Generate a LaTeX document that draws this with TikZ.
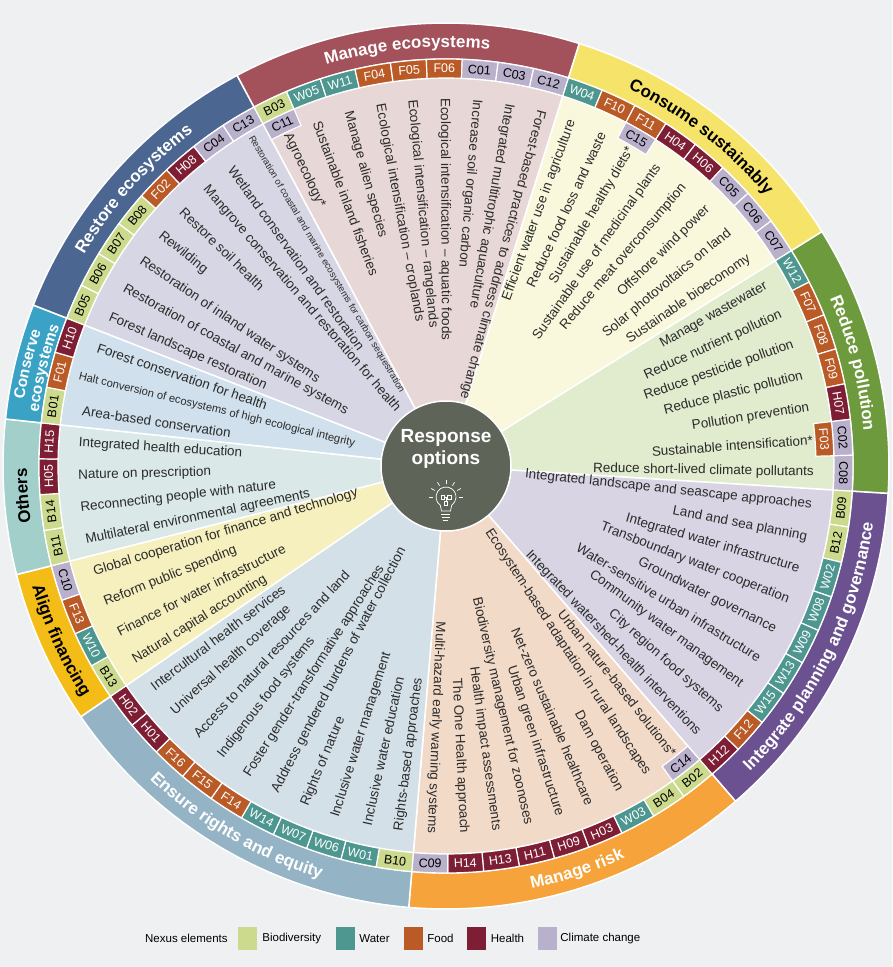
\documentclass[tikz,border=0pt]{standalone}
\usepackage{fontspec}
\setmainfont{Liberation Sans}
\usepackage{tikz}
\usetikzlibrary{decorations.text, positioning}

% colours
\definecolor{bgc}{HTML}{EFF0F2}
\definecolor{hubc}{HTML}{5F6459}
\definecolor{itemc}{HTML}{2B2B2B}
\definecolor{boxB}{HTML}{CBDA8C}
\definecolor{boxW}{HTML}{4E9690}
\definecolor{boxF}{HTML}{BA5B27}
\definecolor{boxH}{HTML}{7D1E35}
\definecolor{boxC}{HTML}{B9B0CC}
\colorlet{txtB}{black}
\colorlet{txtW}{white}
\colorlet{txtF}{white}
\colorlet{txtH}{white}
\colorlet{txtC}{black}
\definecolor{meFill}{HTML}{E7D7D6} \definecolor{meBand}{HTML}{A3525C}
\definecolor{csFill}{HTML}{F9F7DC} \definecolor{csBand}{HTML}{F6E46A}
\definecolor{rpFill}{HTML}{E1EBCD} \definecolor{rpBand}{HTML}{6C9A3C}
\definecolor{ipFill}{HTML}{D8D4E4} \definecolor{ipBand}{HTML}{6B5190}
\definecolor{mrFill}{HTML}{F2DAC8} \definecolor{mrBand}{HTML}{F5A33A}
\definecolor{erFill}{HTML}{D4E0E8} \definecolor{erBand}{HTML}{94B4C6}
\definecolor{afFill}{HTML}{F6F0BE} \definecolor{afBand}{HTML}{F3BC17}
\definecolor{otFill}{HTML}{DAE8E8} \definecolor{otBand}{HTML}{A2CFC9}
\definecolor{ceFill}{HTML}{D0E0EC} \definecolor{ceBand}{HTML}{3AA2C4}
\definecolor{reFill}{HTML}{D6D6E4} \definecolor{reBand}{HTML}{4B6791}

\newcommand{\sw}{5.0704225} % angle of one code slot
\newcommand{\ttlfont}{\bfseries\fontsize{17}{17}\selectfont}

% wedge, band and code ring of one sector: first slot, slots, fill, band, code turn, codes
\newcommand{\drawsector}[6]{%
  \pgfmathsetmacro\aone{72.5-(#1)*\sw}%
  \pgfmathsetmacro\atwo{72.5-(#1+#2)*\sw}%
  \fill[#3, draw=white, line width=1.5pt] (0,0) -- (\aone:388) arc[start angle=\aone, end angle=\atwo, radius=388] -- cycle;
  \fill[#4, draw=white, line width=1.5pt] (\aone:407) arc[start angle=\aone, end angle=\atwo, radius=407] -- (\atwo:443) arc[start angle=\atwo, end angle=\aone, radius=443] -- cycle;
  \foreach \kind/\num [count=\k from 0] in {#6}{%
    \pgfmathsetmacro\ang{72.5-(#1+\k+0.5)*\sw}%
    \pgfmathsetmacro\ahi{\ang+0.5*\sw}%
    \pgfmathsetmacro\alo{\ang-0.5*\sw}%
    \fill[box\kind, draw=white, line width=1.2pt] (\ahi:388) arc[start angle=\ahi, end angle=\alo, radius=388] -- (\alo:407) arc[start angle=\alo, end angle=\ahi, radius=407] -- cycle;
    \node[code, text=txt\kind, rotate=\ang#5] (c\kind\num) at (\ang:397.5) {\kind\num};
  }%
}

% a code in the second row: slot, kind, number, turn
\newcommand{\innercode}[4]{%
  \pgfmathsetmacro\ang{72.5-(#1+0.5)*\sw}%
  \pgfmathsetmacro\ahi{\ang+0.5*\sw}%
  \pgfmathsetmacro\alo{\ang-0.5*\sw}%
  \fill[box#2, draw=white, line width=1.2pt] (\ahi:370) arc[start angle=\ahi, end angle=\alo, radius=370] -- (\alo:388) arc[start angle=\alo, end angle=\ahi, radius=388] -- cycle;
  \node[code, text=txt#2, rotate=\ang#4] (c#2#3) at (\ang:379) {#2#3};
}

% radial items: first slot, turn, anchor, items
\newcommand{\drawitems}[4]{%
  \foreach \txt [count=\k from 0] in {#4}{%
    \pgfmathsetmacro\ang{72.5-(#1+\k+0.5)*\sw}%
    \node[item, anchor=#3, rotate=\ang#2] (it#1-\k) at (\ang:368) {\txt};
  }%
}

\begin{document}
\begin{tikzpicture}[x=1pt, y=1pt,
  item/.style={font=\fontsize{13.5}{15}\selectfont, text=itemc, inner sep=0pt},
  code/.style={font=\fontsize{12.5}{13}\selectfont, inner sep=0pt},
  ttl/.style={decorate, decoration={text along path, text align=center, text={#1}}},
  legbox/.style={minimum width=19pt, minimum height=23pt, inner sep=0pt},
  legtxt/.style={font=\fontsize{11.5}{13}\selectfont, inner sep=0pt, anchor=west}]
  \useasboundingbox (-446,-501) rectangle (446,466);
  \fill[bgc] (-446,-501) rectangle (446,466);

  % Sectors
  \drawsector{0}{8}{csFill}{csBand}{-90}{W/04,F/10,F/11,H/04,H/06,C/05,C/06,C/07}
  \drawsector{8}{7}{rpFill}{rpBand}{-90}{W/12,F/07,F/08,F/09,H/07,C/02,C/08}
  \drawsector{15}{9}{ipFill}{ipBand}{+90}{B/09,B/12,W/02,W/08,W/09,W/13,W/15,F/12,H/12}
  \drawsector{24}{9}{mrFill}{mrBand}{+90}{B/02,B/04,W/03,H/03,H/09,H/11,H/13,H/14,C/09}
  \drawsector{33}{10}{erFill}{erBand}{+90}{B/10,W/01,W/06,W/07,W/14,F/14,F/15,F/16,H/01,H/02}
  \drawsector{43}{4}{afFill}{afBand}{+90}{B/13,W/10,F/13,C/10}
  \drawsector{47}{4}{otFill}{otBand}{-90}{B/11,B/14,H/05,H/15}
  \drawsector{51}{3}{ceFill}{ceBand}{-90}{B/01,F/01,H/10}
  \drawsector{54}{8}{reFill}{reBand}{-90}{B/05,B/06,B/07,B/08,F/02,H/08,C/04,C/13}
  \drawsector{62}{9}{meFill}{meBand}{-90}{B/03,W/05,W/11,F/04,F/05,F/06,C/01,C/03,C/12}

  % Second row of codes
  \innercode{62}{C}{11}{-90}
  \innercode{2}{C}{15}{-90}
  \innercode{13}{F}{03}{-90}
  \innercode{24}{C}{14}{+90}

  % Items
  \drawitems{0}{+0}{east}{Efficient water use in agriculture, Reduce food loss and waste, Sustainable healthy diets*, Sustainable use of medicinal plants, Reduce meat overconsumption, Offshore wind power, Solar photovoltaics on land, Sustainable bioeconomy}
  \drawitems{8}{+0}{east}{Manage wastewater, Reduce nutrient pollution, Reduce pesticide pollution, Reduce plastic pollution, Pollution prevention, Sustainable intensification*, Reduce short-lived climate pollutants}
  \drawitems{15}{+0}{east}{Integrated landscape and seascape approaches, Land and sea planning, Integrated water infrastructure, Transboundary water cooperation, Groundwater governance, Water-sensitive urban infrastructure, Community water management, City region food systems, Integrated watershed-health interventions}
  \drawitems{24}{+0}{east}{Urban nature-based solutions*, Ecosystem-based adaptation in rural landscapes, Dam operation, Net-zero sustainable healthcare, Urban green infrastructure, Biodiversity management for zoonoses, Health impact assessments, The One Health approach, Multi-hazard early warning systems}
  \drawitems{33}{+180}{west}{Rights-based approaches, Inclusive water education, Inclusive water management, Rights of nature, Address gendered burdens of water collection, Foster gender-transformative approaches, Indigenous food systems, Access to natural resources and land, Universal health coverage, Intercultural health services}
  \drawitems{43}{+180}{west}{Natural capital accounting, Finance for water infrastructure, Reform public spending, Global cooperation for finance and technology}
  \drawitems{47}{+180}{west}{Multilateral environmental agreements, Reconnecting people with nature, Nature on prescription, Integrated health education}
  \drawitems{51}{+180}{west}{Area-based conservation}
  \node[item, font=\fontsize{11.2}{13}\selectfont, anchor=west, rotate=166.30+180] (halt) at (166.30:378) {Halt conversion of ecosystems of high ecological integrity};
  \drawitems{53}{+180}{west}{Forest conservation for health}
  \drawitems{54}{+180}{west}{Forest landscape restoration, Restoration of coastal and marine systems, Restoration of inland water systems, Rewilding, Restore soil health, Mangrove conservation and restoration for health, Wetland conservation and restoration}
  \node[item, font=\fontsize{9.4}{11}\selectfont, anchor=west, rotate=120.67+180] (carbon) at (120.67:383) {Restoration of coastal and marine ecosystems for carbon sequestration};
  \drawitems{62}{+180}{west}{Agroecology*, Sustainable inland fisheries, Manage alien species, Ecological intensification – croplands, Ecological intensification – rangelands, Ecological intensification – aquatic foods, Increase soil organic carbon, Integrated multitrophic aquaculture, Forest-based practices to address climate change}

  % Titles
  \path[ttl={|\ttlfont\color{white}|Manage ecosystems}] (-241.866:419) arc[start angle=-241.866, end angle=-287.5, radius=419];
  \path[ttl={|\ttlfont\color{black}|Consume sustainably}] (72.5:419) arc[start angle=72.5, end angle=31.937, radius=419];
  \path[ttl={|\ttlfont\color{white}|Reduce pollution}] (31.937:419) arc[start angle=31.937, end angle=-3.556, radius=419];
  \path[ttl={|\ttlfont\color{white}|Integrate planning and governance}] (-49.190:431) arc[start angle=-49.190, end angle=-3.556, radius=431];
  \path[ttl={|\ttlfont\color{white}|Manage risk}] (-94.824:431) arc[start angle=-94.824, end angle=-49.190, radius=431];
  \path[ttl={|\ttlfont\color{white}|Ensure rights and equity}] (-145.528:431) arc[start angle=-145.528, end angle=-94.824, radius=431];
  \path[ttl={|\ttlfont\color{black}|Align financing}] (-165.810:431) arc[start angle=-165.810, end angle=-145.528, radius=431];
  \path[ttl={|\ttlfont\color{black}|Others}] (-165.810:419) arc[start angle=-165.810, end angle=-186.092, radius=419];
  \path[ttl={|\bfseries\fontsize{15.5}{15.5}\selectfont\color{white}|Conserve}] (-186.092:427) arc[start angle=-186.092, end angle=-201.303, radius=427];
  \path[ttl={|\bfseries\fontsize{15.5}{15.5}\selectfont\color{white}|ecosystems}] (-186.092:411) arc[start angle=-186.092, end angle=-201.303, radius=411];
  \path[ttl={|\ttlfont\color{white}|Restore ecosystems}] (-201.303:419) arc[start angle=-201.303, end angle=-241.866, radius=419];

  % Hub
  \node[circle, fill=hubc, draw=white, line width=1.5pt, minimum size=130pt, inner sep=0pt] (hub) at (0,0) {};
  \node[font=\bfseries\fontsize{19}{22}\selectfont, text=white, align=center] (resp) at (0,17) {Response\\options};
  \begin{scope}[shift={(0,-31)}, draw=white, line width=0.7pt]
    \draw (235:10) arc[start angle=235, end angle=-55, radius=10];
    \draw (235:10) -- (-4.5,-14) -- (4.5,-14) -- (-55:10);
    \draw (-4.5,-17) -- (4.5,-17) (-4,-20) -- (4,-20) (-2.5,-23) -- (2.5,-23);
    \foreach \rayang in {0,30,...,180} \draw (\rayang:13) -- (\rayang:17);
    \draw (-5,-2) rectangle (-1.5,2) (1.5,-2) rectangle (5,2) (-1.5,-8) rectangle (1.5,-4);
    \draw (-1.5,0) -- (1.5,0) (0,-4) -- (0,-1);
  \end{scope}

  % Legend
  \node[legtxt] (nexus) at (-301,-472) {Nexus elements};
  \node[legbox, fill=boxB] (lgB) at (-198.5,-472.5) {};
  \node[legtxt, right=5pt of lgB] (lgBt) {Biodiversity};
  \node[legbox, fill=boxW] (lgW) at (-100.5,-472.5) {};
  \node[legtxt, right=4pt of lgW] (lgWt) {Water};
  \node[legbox, fill=boxF] (lgF) at (-32.5,-472.5) {};
  \node[legtxt, right=4pt of lgF] (lgFt) {Food};
  \node[legbox, fill=boxH] (lgH) at (31,-472.5) {};
  \node[legtxt, right=4pt of lgH] (lgHt) {Health};
  \node[legbox, fill=boxC] (lgC) at (101.5,-472.5) {};
  \node[legtxt, right=3pt of lgC] (lgCt) {Climate change};
\end{tikzpicture}
\end{document}
